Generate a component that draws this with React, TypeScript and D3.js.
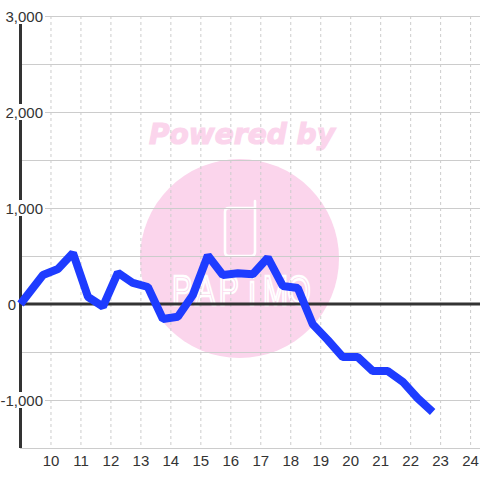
import React, { useRef, useEffect } from 'react';
import * as d3 from 'd3';

const hours = [9, 9.75, 10.25, 10.75, 11.25, 11.75, 12.25, 12.75, 13.25, 13.75, 14.25, 14.75, 15.25, 15.75, 16.25, 16.75, 17.25, 17.75, 18.25, 18.75, 19.25, 19.75, 20.25, 20.75, 21.25, 21.75, 22.25, 22.75];
const values = [0, 302, 365, 531, 75, -28, 326, 219, 177, -156, -132, 94, 505, 302, 320, 310, 482, 188, 166, -210, -375, -552, -552, -698, -698, -809, -982, -1125];
const xTicks = [10, 11, 12, 13, 14, 15, 16, 17, 18, 19, 20, 21, 22, 23, 24];
const yGrid = [3000, 2500, 2000, 1500, 1000, 500, 0, -500, -1000, -1500];
const yLabels = [3000, 2000, 1000, 0, -1000];
const logoLetters = ['P', 'A', 'P', 'i', 'M', 'O'];

const App: React.FC = () => {
  const ref = useRef<SVGSVGElement | null>(null);

  useEffect(() => {
    if (!ref.current) return;
    const svg = d3.select(ref.current);
    svg.selectAll('*').remove();

    const x = d3.scaleLinear().domain([9, 24.33]).range([20.5, 480]);
    const y = d3.scaleLinear().domain([3000, -1500]).range([16, 448]);
    const font = '"Liberation Sans", Arial, sans-serif';

    // Watermark
    svg.append('text')
      .attr('x', 242)
      .attr('y', 144)
      .attr('text-anchor', 'middle')
      .attr('textLength', 186)
      .attr('lengthAdjust', 'spacingAndGlyphs')
      .attr('font-family', '"DejaVu Sans", sans-serif')
      .attr('font-weight', 'bold')
      .attr('font-style', 'italic')
      .attr('font-size', 29)
      .attr('fill', '#fbd5ec')
      .attr('stroke', '#fbd5ec')
      .attr('stroke-width', 1.2)
      .text('Powered by');
    svg.append('circle')
      .attr('cx', 239.5)
      .attr('cy', 258.5)
      .attr('r', 99.5)
      .attr('fill', '#fbd5ec');
    svg.append('path')
      .attr('d', 'M254 208H229Q225 208 225 212V252Q225 256 229 256H251Q255 256 255 252V201')
      .attr('fill', 'none')
      .attr('stroke', '#fff')
      .attr('stroke-width', 2.6)
      .attr('stroke-linecap', 'round');

    // Logo letters are spaced apart and squeezed horizontally
    const logoX = d3.scalePoint<number>().domain(logoLetters.map((_, i) => i)).range([182, 299]);
    svg.append('g').selectAll('text').data(logoLetters).join('text')
      .attr('transform', (_, i) => `translate(${logoX(i)},305) scale(0.7,1)`)
      .attr('text-anchor', 'middle')
      .attr('font-family', font)
      .attr('font-size', 43)
      .attr('fill', 'none')
      .attr('stroke', '#fff')
      .attr('stroke-width', 2.4)
      .text(d => d);

    // Grid
    svg.append('g').selectAll('line').data(xTicks).join('line')
      .attr('x1', d => x(d) + 0.5)
      .attr('x2', d => x(d) + 0.5)
      .attr('y1', 16)
      .attr('y2', 448)
      .attr('stroke', '#ccc')
      .attr('stroke-dasharray', '3,3');
    svg.append('g').selectAll('line').data(yGrid).join('line')
      .attr('x1', 20)
      .attr('x2', 480)
      .attr('y1', d => y(d) + 0.5)
      .attr('y2', d => y(d) + 0.5)
      .attr('stroke', '#ccc');

    // Axis lines
    svg.append('line')
      .attr('x1', 20.5).attr('x2', 20.5)
      .attr('y1', 16).attr('y2', 448)
      .attr('stroke', '#333').attr('stroke-width', 3);
    svg.append('line')
      .attr('x1', 20).attr('x2', 480)
      .attr('y1', y(0)).attr('y2', y(0))
      .attr('stroke', '#333').attr('stroke-width', 3);

    // Y labels sit on white boxes that cut the axis
    yLabels.forEach(v => {
      const right = v === 0 ? 16 : 43;
      const label = svg.append('text')
        .attr('x', right)
        .attr('y', y(v) + 5.5)
        .attr('text-anchor', 'end')
        .attr('font-family', font)
        .attr('font-size', 15)
        .attr('fill', '#333')
        .text(d3.format(',')(v).replace('−', '-'));
      const box = (label.node() as SVGTextElement).getBBox();
      svg.insert('rect', () => label.node())
        .attr('x', box.x)
        .attr('y', y(v) - 8)
        .attr('width', box.width + 2)
        .attr('height', 16)
        .attr('fill', '#fff');
    });

    // X labels
    svg.append('g').selectAll('text').data(xTicks).join('text')
      .attr('x', d => x(d) + 0.5)
      .attr('y', 466)
      .attr('text-anchor', 'middle')
      .attr('font-family', font)
      .attr('font-size', 15)
      .attr('fill', '#333')
      .text(d => String(d));

    // Series
    const line = d3.line<number>()
      .x((_, i) => x(hours[i]))
      .y(d => y(d));
    svg.append('path')
      .attr('d', line(values) as string)
      .attr('fill', 'none')
      .attr('stroke', '#1e3cff')
      .attr('stroke-width', 8)
      .attr('stroke-linejoin', 'bevel');
  }, []);

  return (
    <svg
      ref={ref}
      width={480}
      height={480}
      style={{ position: 'absolute', top: 0, left: 0, background: '#fff' }}
    />
  );
};

export default App;
